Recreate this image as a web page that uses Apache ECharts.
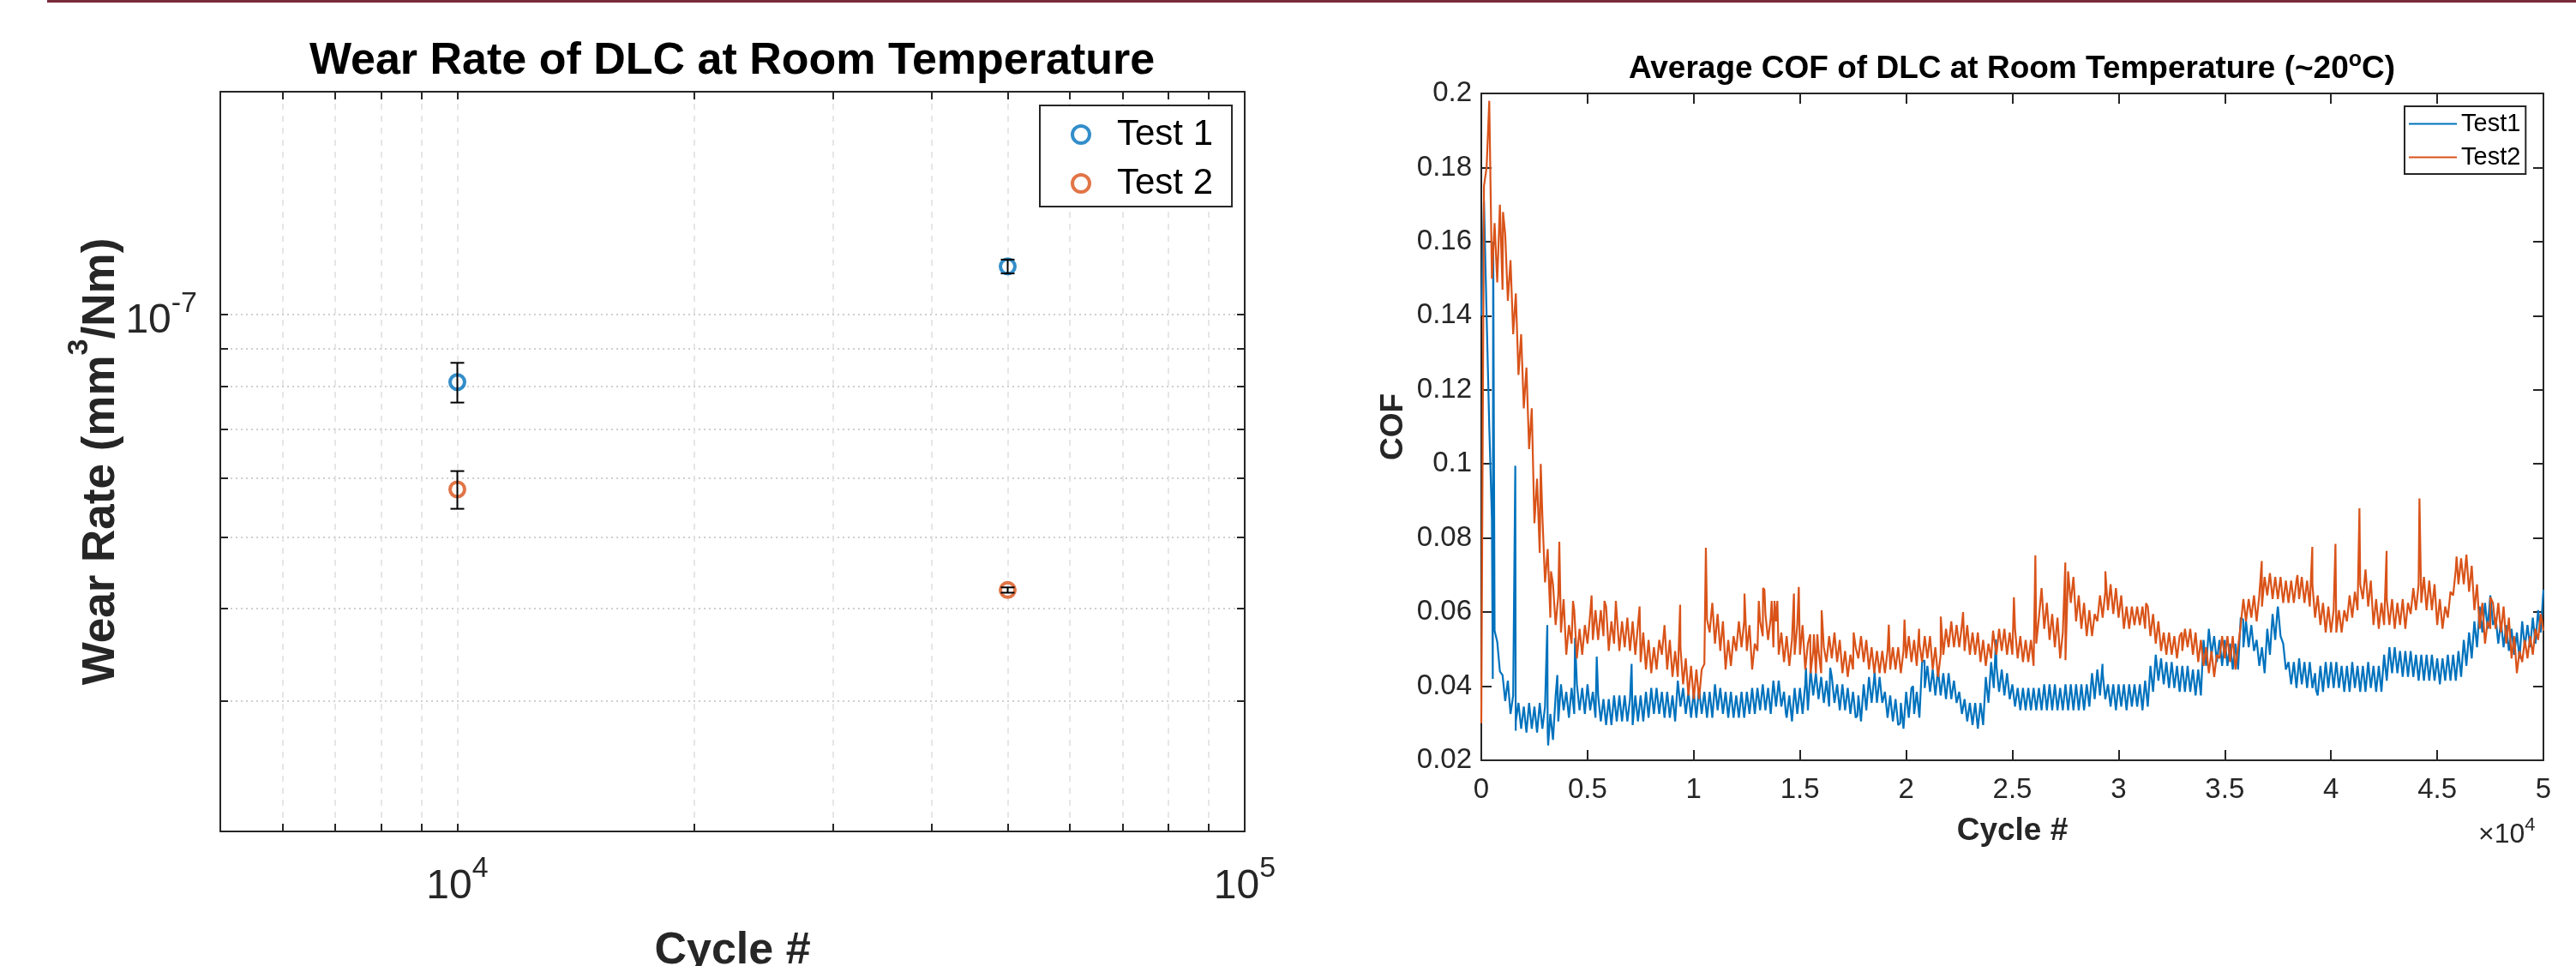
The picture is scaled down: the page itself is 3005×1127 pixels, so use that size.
<!DOCTYPE html>
<html>
<head>
<meta charset="utf-8">
<script src="https://cdn.jsdelivr.net/npm/echarts@6/dist/echarts.min.js"></script>
<style>
  html, body { margin: 0; padding: 0; background: #fff; }
  #chart { width: 3005px; height: 1127px; }
</style>
</head>
<body>
<div id="chart"></div>
<script>
// ---- wear rate (log-log, with error bars) ----
const wearCycles = [10000, 50000];
const test1Wear = [8.1e-8, 1.161e-7];
const test1WearErr = [0.5e-8, 0.25e-8];
const test2Wear = [5.8e-8, 4.24e-8];
const test2WearErr = [0.34e-8, 0.035e-8];
const wearXTicks = [6000, 7000, 8000, 9000, 10000, 20000, 30000, 40000, 50000, 60000, 70000, 80000, 90000];
const wearXLabels = [10000, 100000];
const wearYTicks = [3e-8, 4e-8, 5e-8, 6e-8, 7e-8, 8e-8, 9e-8, 1e-7];
const wearYLabels = [1e-7];

// ---- average COF vs cycle: one reading every 125 cycles (0 .. 50000), 20 per row ----
const cofStep = 125;
const cofTest1 = [
  .140, .171, .140, .110, .085, .055, .052, .044, .043, .036, .0415, .0325, .0375, .0305, .0355, .0285, .0345, .0275, .0355, .0285, // 0
  .0345, .0275, .0355, .0285, .0345, .0275, .0325, .0255, .0375, .0305, .0405, .0335, .0385, .0315, .0395, .0325, .0405, .0335, .0395, .0325, // 2500
  .0405, .0335, .0385, .0315, .0375, .0305, .0365, .0295, .0365, .0295, .0375, .0305, .0375, .0305, .0375, .0305, .0365, .0295, .0375, .0305, // 5000
  .0375, .0305, .0385, .0315, .0395, .0325, .0395, .0325, .0385, .0315, .0385, .0315, .0375, .0305, .0415, .0345, .0395, .0325, .0385, .0315, // 7500
  .0385, .0315, .0395, .0325, .0385, .0315, .0385, .0315, .0405, .0335, .0395, .0325, .0385, .0315, .0385, .0315, .0375, .0315, .0385, .0315, // 10000
  .0385, .0325, .0395, .0325, .0395, .0335, .0405, .0335, .0395, .0325, .0415, .0345, .0415, .0345, .0385, .0315, .0375, .0305, .0395, .0325, // 12500
  .0395, .0325, .0405, .0335, .0445, .0375, .0435, .0365, .0425, .0355, .0415, .0345, .0425, .0355, .0405, .0335, .0405, .0335, .0395, .0325, // 15000
  .0385, .0315, .0375, .0305, .0405, .0335, .0425, .0355, .0425, .0355, .0425, .0355, .0385, .0315, .0375, .0305, .0365, .0295, .0355, .0285, // 17500
  .0385, .0315, .0395, .0325, .0385, .0315, .0465, .0395, .0455, .0385, .0445, .0375, .0445, .0375, .0435, .0365, .0435, .0365, .0415, .0355, // 20000
  .0385, .0325, .0365, .0305, .0355, .0295, .0355, .0285, .0355, .0295, .0425, .0355, .0465, .0395, .0455, .0385, .0445, .0375, .0435, .0365, // 22500
  .0405, .0345, .0395, .0335, .0395, .0335, .0395, .0335, .0395, .0335, .0395, .0335, .0405, .0335, .0405, .0335, .0405, .0335, .0395, .0335, // 25000
  .0405, .0335, .0405, .0335, .0405, .0335, .0405, .0335, .0405, .0345, .0435, .0365, .0445, .0375, .0435, .0365, .0405, .0345, .0405, .0335, // 27500
  .0405, .0345, .0405, .0335, .0405, .0345, .0405, .0345, .0405, .0335, .0415, .0345, .0455, .0385, .0485, .0415, .0475, .0405, .0465, .0395, // 30000
  .0465, .0395, .0455, .0385, .0455, .0385, .0455, .0385, .0445, .0375, .0445, .0375, .0525, .0455, .0555, .0485, .0535, .0465, .0525, .0455, // 32500
  .0525, .0455, .0515, .0445, .0515, .0445, .0585, .0505, .0575, .0505, .0565, .0495, .0525, .0455, .0505, .0435, .0555, .0485, .0595, .0525, // 35000
  .0615, .0535, .0515, .0445, .0465, .0405, .0465, .0395, .0475, .0405, .0465, .0395, .0465, .0395, .0435, .0375, .0455, .0385, .0465, .0395, // 37500
  .0465, .0395, .0465, .0395, .0455, .0385, .0455, .0385, .0465, .0395, .0455, .0385, .0455, .0385, .0465, .0395, .0455, .0385, .0455, .0385, // 40000
  .0485, .0415, .0505, .0435, .0505, .0435, .0495, .0425, .0495, .0425, .0495, .0425, .0485, .0415, .0485, .0415, .0485, .0415, .0485, .0415, // 42500
  .0475, .0405, .0475, .0415, .0485, .0415, .0485, .0415, .0495, .0425, .0525, .0455, .0545, .0475, .0575, .0505, .0615, .0545, .0625, .0555, // 45000
  .0645, .0565, .0585, .0515, .0575, .0505, .0565, .0495, .0555, .0485, .0545, .0475, .0575, .0505, .0565, .0505, .0585, .0515, .0605, .0545, // 47500
  .066 // 50000
];
const cofTest2 = [
  .030, .175, .180, .198, .150, .165, .149, .170, .147, .162, .144, .155, .135, .146, .124, .135, .115, .126, .104, .115, // 0
  .084, .096, .076, .086, .068, .077, .0585, .0675, .0565, .0645, .0545, .0635, .0485, .0565, .0515, .0605, .0475, .0555, .0485, .0565, // 2500
  .0515, .0595, .0525, .0605, .0525, .0605, .0535, .0615, .0495, .0575, .0515, .0595, .0495, .0575, .0505, .0585, .0495, .0575, .0485, .0565, // 5000
  .0465, .0545, .0445, .0525, .0435, .0505, .0445, .0525, .0485, .0565, .0445, .0525, .0425, .0495, .0425, .0505, .0405, .0475, .0375, .0455, // 7500
  .0365, .0445, .0365, .0445, .046, .058, .0545, .0625, .0515, .0595, .0495, .0575, .0445, .0525, .0455, .0535, .0495, .0575, .0505, .0575, // 10000
  .0495, .0565, .0445, .0515, .0495, .0575, .0535, .0595, .0525, .0585, .0505, .0575, .0485, .0545, .0465, .0535, .0455, .0525, .0485, .0565, // 12500
  .0485, .0565, .0445, .0515, .0435, .0495, .0435, .0495, .0435, .0505, .0465, .0535, .0475, .0545, .0465, .0525, .0435, .0495, .0425, .0485, // 15000
  .0445, .0505, .0475, .0535, .0465, .0525, .0445, .0505, .0435, .0495, .0435, .0495, .0435, .0495, .0445, .0505, .0445, .0505, .0435, .0495, // 17500
  .0475, .0535, .0465, .0525, .0455, .0515, .0465, .0535, .0475, .0535, .0445, .0505, .0425, .0485, .0485, .0555, .0505, .0575, .0505, .0565, // 20000
  .0505, .0565, .0495, .0565, .0485, .0545, .0485, .0545, .0465, .0525, .0455, .0515, .0475, .0535, .0485, .0555, .0495, .0555, .0485, .0545, // 22500
  .0485, .0555, .0475, .0535, .0465, .0525, .0465, .0525, .0455, .0515, .0585, .0665, .0555, .0625, .0525, .0595, .0505, .0585, .0475, .0545, // 25000
  .047, .071, .0625, .0695, .0575, .0645, .0555, .0625, .0535, .0605, .0535, .0595, .0575, .0645, .0585, .0655, .0605, .0675, .0595, .0665, // 27500
  .0585, .0645, .0555, .0615, .0555, .0615, .0565, .0615, .0565, .0615, .0555, .0615, .0535, .0595, .0515, .0575, .0495, .0545, .0485, .0545, // 30000
  .0485, .0535, .0475, .0535, .0495, .0555, .0505, .0555, .0485, .0545, .0465, .0525, .0455, .0505, .0435, .0495, .0425, .0485, .0475, .0535, // 32500
  .0475, .0535, .0465, .0535, .0445, .0505, .0565, .0635, .0575, .0635, .0585, .0645, .0575, .0645, .0615, .0695, .0645, .0705, .0635, .0695, // 35000
  .0635, .0695, .0625, .0685, .0625, .0685, .0625, .0685, .0635, .0695, .0625, .0685, .0615, .0675, .0585, .0645, .0565, .0625, .0545, .0615, // 37500
  .0545, .0605, .0545, .0605, .0545, .0605, .0575, .0645, .0585, .0655, .0605, .0675, .0635, .0715, .0615, .0685, .0565, .0635, .0555, .0625, // 40000
  .0565, .0635, .0565, .0635, .0555, .0625, .0565, .0635, .0555, .0625, .0595, .0665, .0605, .0675, .0625, .0695, .0605, .0685, .0605, .0675, // 42500
  .0565, .0635, .0555, .0615, .0585, .0655, .0645, .0715, .0675, .0745, .0675, .0755, .0655, .0725, .0605, .0675, .0555, .0625, .0515, .0575, // 45000
  .0555, .0625, .0555, .0625, .0545, .0615, .0515, .0585, .0475, .0535, .0435, .0495, .0465, .0525, .0475, .0535, .0485, .0555, .0525, .0595, // 47500
  .055 // 50000
];
// single-sample peaks: [cycle, COF]
const test1Spikes = [
  [540, .042], [560, .160], [1600, .0995], [1620, .028], [3107, .0565], [3147, .024], [3578, .043], [4412, .053],
  [5434, .048], [7075, .046], [14340, .0326], [15282, .045], [16425, .045], [17703, .032], [18510, .044], [19720, .030],
  [20326, .040], [20864, .047], [24226, .0526], [29243, .046], [35866, .058], [37479, .0607], [39295, .039]
];
const test2Spikes = [
  [1022, .168], [2798, .100], [3282, .071], [3672, .079], [4317, .063], [5192, .0645], [5797, .063], [6335, .063],
  [7451, .0615], [9361, .062], [10572, .0774], [12390, .065], [13063, .063], [13265, .0665], [13330, .066], [13668, .063],
  [13803, .063], [13937, .063], [14717, .065], [14946, .0668], [15484, .054], [15659, .054], [15820, .054], [16022, .0605],
  [17528, .0545], [19183, .0566], [19922, .058], [20608, .0555], [21630, .0588], [22680, .060], [24092, .055], [25073, .064],
  [26083, .0753], [27494, .0734], [29378, .071], [31292, .0624], [32973, .0545], [36740, .0738], [38420, .070], [39120, .0776],
  [40210, .0784], [41339, .088], [42617, .0765], [44164, .0907], [45912, .075], [47500, .064]
];

const FONT = "'Liberation Sans', Arial, Helvetica, sans-serif";
const AX = '#262626';
const BLUE = '#0072BD';
const ORANGE = '#D95319';

const chart = echarts.init(document.getElementById('chart'), null, { renderer: 'canvas' });

// superscript label helpers
const supRich = (base, sup, lh) => ({
  b: { fontFamily: FONT, fontSize: base, color: AX, lineHeight: lh },
  s: { fontFamily: FONT, fontSize: sup, color: AX, verticalAlign: 'top', lineHeight: sup }
});
const pow10Label = (v) => '{b|10}{s|' + Math.round(Math.log10(v)) + '}';

const errData = (vals, errs) => wearCycles.map((c, i) => [c, vals[i] - errs[i], vals[i] + errs[i]]);
const cofSeries = (vals, spikes) =>
  vals.map((v, i) => [i * cofStep, v]).concat(spikes).sort((a, b) => a[0] - b[0]);

const boxAxis = (extra) => Object.assign({
  axisLine: { show: true, onZero: false, lineStyle: { color: AX, width: 2 } },
  axisTick: { show: true, inside: true, length: 9, lineStyle: { color: AX, width: 2 } },
  axisLabel: { show: false },
  splitLine: { show: false },
  nameMoveOverlap: false
}, extra);

const option = {
  animation: false,
  backgroundColor: '#fff',
  title: [
    {
      text: 'Wear Rate of DLC at Room Temperature',
      left: 854, top: 46, textAlign: 'center', padding: 0,
      textStyle: { fontFamily: FONT, fontSize: 52, fontWeight: 'bold', color: '#000' }
    },
    {
      text: '{t|Average COF of DLC at Room Temperature (~20}{s|o}{t|C)}',
      left: 2347, top: 58, textAlign: 'center', padding: 0,
      textStyle: {
        rich: {
          t: { fontFamily: FONT, fontSize: 37, fontWeight: 'bold', color: '#000', lineHeight: 46 },
          s: { fontFamily: FONT, fontSize: 25, fontWeight: 'bold', color: '#000', lineHeight: 25, verticalAlign: 'top' }
        }
      }
    }
  ],
  legend: [
    {
      data: ['Test 1', 'Test 2'],
      orient: 'vertical', left: 1213, top: 123,
      padding: [13, 22, 6, 36], itemGap: 15,
      itemWidth: 74, itemHeight: 20,
      borderColor: AX, borderWidth: 2, backgroundColor: '#fff',
      itemStyle: { borderWidth: 4 },
      textStyle: { fontFamily: FONT, fontSize: 42, color: '#000' }
    },
    {
      data: ['Test1', 'Test2'],
      orient: 'vertical', left: 2805, top: 124,
      padding: [6, 6, 5, 5], itemGap: 10,
      icon: 'rect', itemWidth: 56, itemHeight: 2,
      borderColor: AX, borderWidth: 2, backgroundColor: '#fff',
      textStyle: { fontFamily: FONT, fontSize: 29, color: '#000' }
    }
  ],
  grid: [
    { left: 257, top: 107, width: 1195, height: 863, outerBoundsMode: 'none' },
    { left: 1728, top: 109, width: 1239, height: 778, outerBoundsMode: 'none' }
  ],
  xAxis: [
    boxAxis({
      gridIndex: 0, type: 'log', logBase: 10, min: 5000, max: 100000, position: 'bottom',
      axisTick: { show: true, inside: true, length: 9, customValues: wearXTicks, lineStyle: { color: AX, width: 2 } },
      axisLabel: {
        show: true, customValues: wearXLabels, margin: 27, formatter: pow10Label,
        rich: supRich(48, 34, 75)
      },
      splitLine: { show: true, lineStyle: { type: [7, 7], color: '#dedede', width: 1.5 } },
      name: 'Cycle #', nameLocation: 'middle', nameGap: 114,
      nameTextStyle: { fontFamily: FONT, fontSize: 52, fontWeight: 'bold', color: AX }
    }),
    boxAxis({
      gridIndex: 0, type: 'log', logBase: 10, min: 5000, max: 100000, position: 'top',
      axisTick: { show: true, inside: true, length: 9, customValues: wearXTicks, lineStyle: { color: AX, width: 2 } }
    }),
    boxAxis({
      gridIndex: 1, type: 'value', min: 0, max: 50000, interval: 5000, position: 'bottom',
      axisTick: { show: true, inside: true, length: 12, lineStyle: { color: AX, width: 2 } },
      axisLabel: {
        show: true, margin: 18, fontFamily: FONT, fontSize: 33, color: AX,
        formatter: (v) => String(+(v / 10000).toFixed(1))
      },
      name: 'Cycle #', nameLocation: 'middle', nameGap: 64,
      nameTextStyle: { fontFamily: FONT, fontSize: 37, fontWeight: 'bold', color: AX }
    }),
    boxAxis({
      gridIndex: 1, type: 'value', min: 0, max: 50000, interval: 5000, position: 'top',
      axisTick: { show: true, inside: true, length: 12, lineStyle: { color: AX, width: 2 } }
    })
  ],
  yAxis: [
    boxAxis({
      gridIndex: 0, type: 'log', logBase: 10, min: 2e-8, max: 2e-7, position: 'left',
      axisTick: { show: true, inside: true, length: 9, customValues: wearYTicks, lineStyle: { color: AX, width: 2 } },
      axisLabel: {
        show: true, customValues: wearYLabels, margin: 27, formatter: pow10Label, padding: [16, 0, 0, 0],
        rich: supRich(48, 34, 75)
      },
      splitLine: { show: true, lineStyle: { type: [2, 4], color: '#cfcfcf', width: 2 } },
      name: '{b|Wear Rate (mm}{s|3}{b|/Nm)}', nameLocation: 'middle', nameGap: 97, nameRotate: 90,
      nameTextStyle: {
        rich: {
          b: { fontFamily: FONT, fontSize: 53, fontWeight: 'bold', color: AX, lineHeight: 84 },
          s: { fontFamily: FONT, fontSize: 34, fontWeight: 'bold', color: AX, lineHeight: 34, verticalAlign: 'top' }
        }
      }
    }),
    boxAxis({
      gridIndex: 0, type: 'log', logBase: 10, min: 2e-8, max: 2e-7, position: 'right',
      axisTick: { show: true, inside: true, length: 9, customValues: wearYTicks, lineStyle: { color: AX, width: 2 } }
    }),
    boxAxis({
      gridIndex: 1, type: 'value', min: 0.02, max: 0.2, interval: 0.02, position: 'left',
      axisTick: { show: true, inside: true, length: 12, lineStyle: { color: AX, width: 2 } },
      axisLabel: {
        show: true, margin: 11, fontFamily: FONT, fontSize: 33, color: AX,
        formatter: (v) => String(+v.toFixed(2))
      },
      name: 'COF', nameLocation: 'middle', nameGap: 84, nameRotate: 90,
      nameTextStyle: { fontFamily: FONT, fontSize: 37, fontWeight: 'bold', color: AX }
    }),
    boxAxis({
      gridIndex: 1, type: 'value', min: 0.02, max: 0.2, interval: 0.02, position: 'right',
      axisTick: { show: true, inside: true, length: 12, lineStyle: { color: AX, width: 2 } }
    })
  ],
  graphic: [
    { type: 'rect', left: 55, top: 0, shape: { width: 2950, height: 3 }, style: { fill: '#7a2b3a' } },
    {
      type: 'text', x: 2891, y: 952,
      style: {
        text: '{b|×10}{s|4}',
        rich: {
          b: { fontFamily: FONT, fontSize: 32, fill: AX, lineHeight: 44 },
          s: { fontFamily: FONT, fontSize: 22, fill: AX, lineHeight: 22, verticalAlign: 'top' }
        }
      }
    }
  ],
  series: [
    {
      name: 'Test 1', type: 'scatter', xAxisIndex: 0, yAxisIndex: 0,
      symbol: 'circle', symbolSize: 17, z: 3,
      itemStyle: { color: 'rgba(255,255,255,0)', borderColor: BLUE, borderWidth: 4 },
      data: wearCycles.map((c, i) => [c, test1Wear[i]])
    },
    {
      name: 'Test 2', type: 'scatter', xAxisIndex: 0, yAxisIndex: 0,
      symbol: 'circle', symbolSize: 17, z: 3,
      itemStyle: { color: 'rgba(255,255,255,0)', borderColor: ORANGE, borderWidth: 4 },
      data: wearCycles.map((c, i) => [c, test2Wear[i]])
    },
    {
      name: 'err', type: 'custom', xAxisIndex: 0, yAxisIndex: 0, z: 4,
      encode: { x: 0, y: [1, 2] },
      data: errData(test1Wear, test1WearErr).concat(errData(test2Wear, test2WearErr)),
      renderItem: (params, api) => {
        const x = api.value(0);
        const lo = api.coord([x, api.value(1)]);
        const hi = api.coord([x, api.value(2)]);
        const w = 8;
        const st = { stroke: '#000', lineWidth: 2 };
        return {
          type: 'group',
          children: [
            { type: 'line', shape: { x1: lo[0], y1: lo[1], x2: hi[0], y2: hi[1] }, style: st },
            { type: 'line', shape: { x1: lo[0] - w, y1: lo[1], x2: lo[0] + w, y2: lo[1] }, style: st },
            { type: 'line', shape: { x1: hi[0] - w, y1: hi[1], x2: hi[0] + w, y2: hi[1] }, style: st }
          ]
        };
      }
    },
    {
      name: 'Test1', type: 'line', xAxisIndex: 2, yAxisIndex: 2,
      showSymbol: false, symbol: 'none', sampling: 'none',
      lineStyle: { color: BLUE, width: 2.2 }, itemStyle: { color: BLUE },
      data: cofSeries(cofTest1, test1Spikes)
    },
    {
      name: 'Test2', type: 'line', xAxisIndex: 2, yAxisIndex: 2,
      showSymbol: false, symbol: 'none', sampling: 'none',
      lineStyle: { color: ORANGE, width: 2.2 }, itemStyle: { color: ORANGE },
      data: cofSeries(cofTest2, test2Spikes)
    }
  ]
};

chart.setOption(option);
</script>
</body>
</html>
